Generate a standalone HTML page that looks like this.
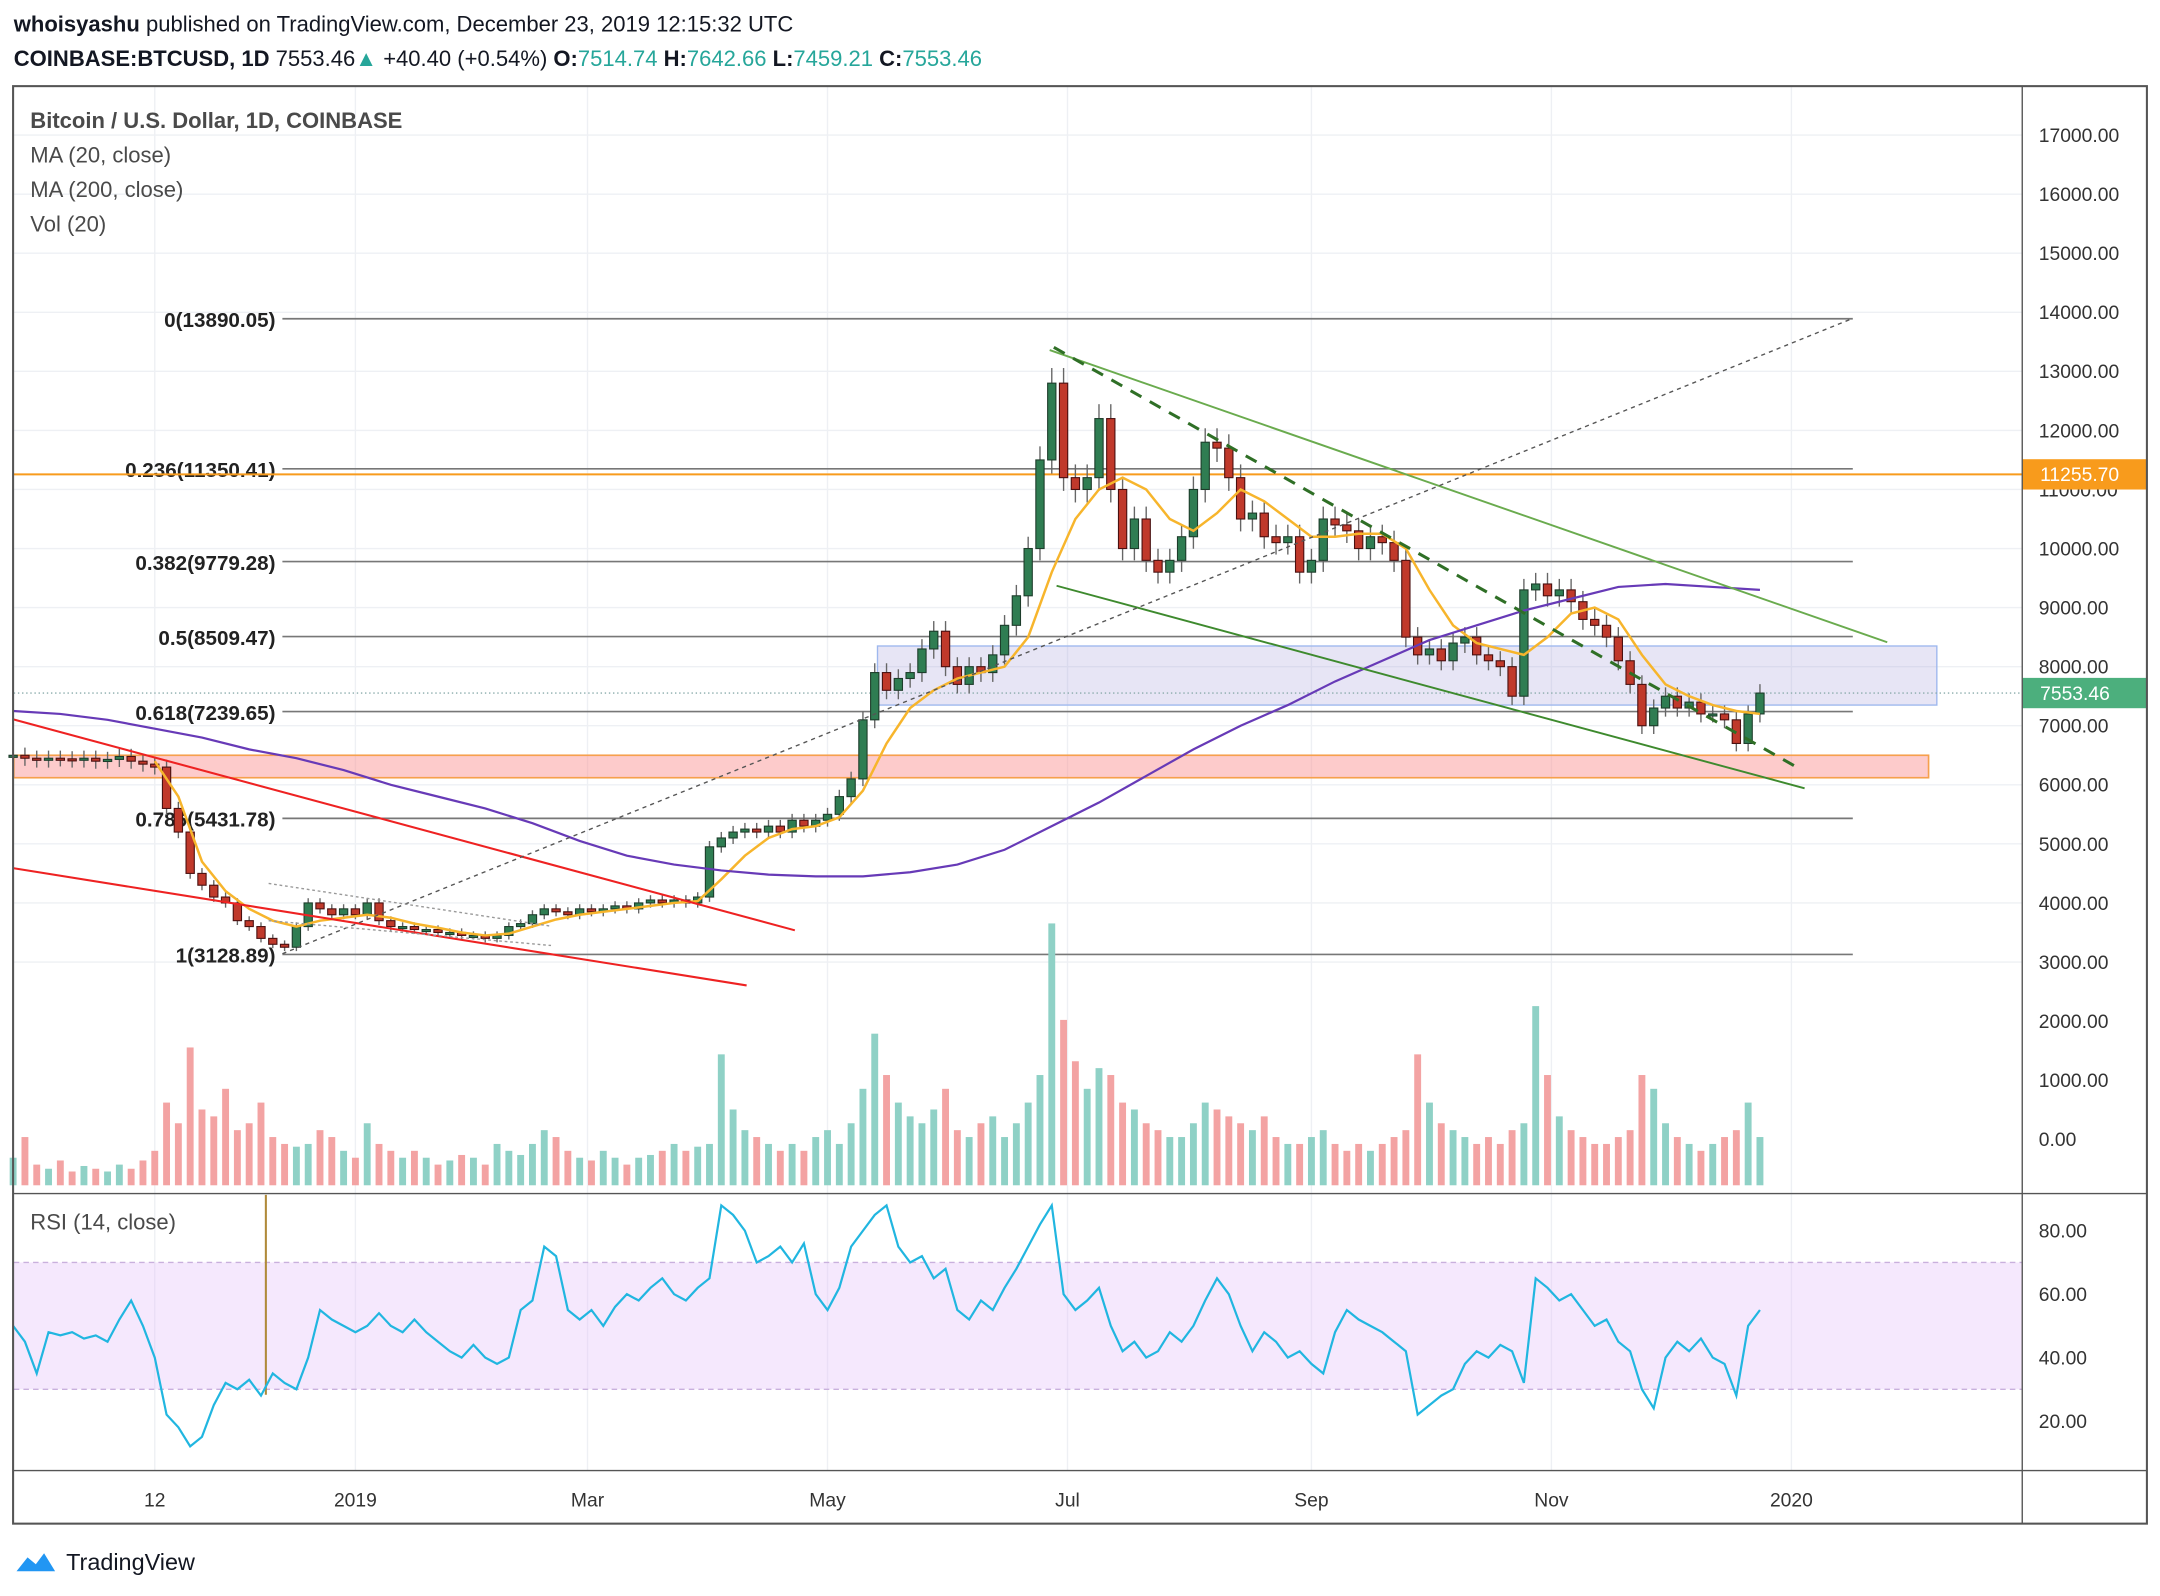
<!DOCTYPE html>
<html><head><meta charset="utf-8"><style>
html,body{margin:0;padding:0;background:#fff;}
svg{display:block;font-family:"Liberation Sans",sans-serif;}
</style></head><body>
<svg id="chart" width="2160" height="1596" viewBox="0 0 1568 1158" preserveAspectRatio="none" xmlns="http://www.w3.org/2000/svg">
<rect x="0" y="0" width="1568" height="1158" fill="#fff"/>
<text x="10" y="23" font-size="16" fill="#131722"><tspan font-weight="bold">whoisyashu</tspan> published on TradingView.com, December 23, 2019 12:15:32 UTC</text>
<text x="10" y="48" font-size="16" fill="#131722"><tspan font-weight="bold">COINBASE:BTCUSD, 1D</tspan> 7553.46<tspan fill="#26a69a">▲</tspan> +40.40 (+0.54%) <tspan font-weight="bold">O:</tspan><tspan fill="#26a69a">7514.74</tspan> <tspan font-weight="bold">H:</tspan><tspan fill="#26a69a">7642.66</tspan> <tspan font-weight="bold">L:</tspan><tspan fill="#26a69a">7459.21</tspan> <tspan font-weight="bold">C:</tspan><tspan fill="#26a69a">7553.46</tspan></text>
<g id="grid"></g>
<g id="drawings-back"></g>
<g id="volume"></g>
<g id="candles"></g>
<g id="mas"></g>
<g id="drawings"></g>
<g id="rsi"></g>
<g id="axes"></g>
<rect x="9.5" y="62.5" width="1549" height="1043" fill="none" stroke="#555" stroke-width="1.5"/>
<line x1="1468" y1="62" x2="1468" y2="1105" stroke="#555" stroke-width="1"/>
<line x1="10" y1="866" x2="1558" y2="866" stroke="#555" stroke-width="1"/>
<line x1="10" y1="1067" x2="1558" y2="1067" stroke="#555" stroke-width="1"/>
<text x="22" y="93" font-size="16" font-weight="bold" fill="#4a4a4a">Bitcoin / U.S. Dollar, 1D, COINBASE</text>
<text x="22" y="118" font-size="16" fill="#4a4a4a">MA (20, close)</text>
<text x="22" y="143" font-size="16" fill="#4a4a4a">MA (200, close)</text>
<text x="22" y="168" font-size="16" fill="#4a4a4a">Vol (20)</text>
<text x="22" y="892" font-size="16" fill="#4a4a4a">RSI (14, close)</text>
<g>
<path d="M12 1140 l8 -10 l6 5 l6 -8 l8 13 z" fill="#2196f3"/>
<text x="48" y="1139" font-size="17" fill="#131722">TradingView</text>
</g>
</svg>
<script>
const NS="http://www.w3.org/2000/svg";
const closes=[6500,6450,6420,6450,6440,6420,6450,6400,6430,6480,6400,6350,6300,5600,5200,4500,4300,4100,4000,3700,3600,3400,3300,3250,3600,4000,3900,3800,3900,3800,4000,3700,3600,3600,3550,3550,3500,3500,3450,3450,3400,3450,3600,3650,3800,3900,3850,3800,3900,3850,3900,3950,3900,4000,4050,4000,4050,4000,4100,4950,5100,5200,5250,5200,5300,5200,5400,5300,5400,5500,5800,6100,7100,7900,7600,7800,7900,8300,8600,8000,7700,8000,7900,8200,8700,9200,10000,11500,12800,11200,11000,11200,12200,11000,10000,10500,9800,9600,9800,10200,11000,11800,11700,11200,10500,10600,10200,10100,10200,9600,9800,10500,10400,10300,10000,10200,10100,9800,8500,8200,8300,8100,8400,8500,8200,8100,8000,7500,9300,9400,9200,9300,9100,8800,8700,8500,8100,7700,7000,7300,7500,7300,7400,7200,7200,7100,6700,7200,7553];
const volumes=[20,35,15,12,18,10,14,12,10,15,12,18,25,60,45,100,55,50,70,40,45,60,35,30,28,30,40,35,25,20,45,30,25,20,25,20,15,18,22,20,15,30,25,22,30,40,35,25,20,18,25,20,15,20,22,25,30,25,28,30,95,55,40,35,30,25,30,25,35,40,30,45,70,110,80,60,50,45,55,70,40,35,45,50,35,45,60,80,190,120,90,70,85,80,60,55,45,40,35,35,45,60,55,50,45,40,50,35,30,30,35,40,30,25,30,25,30,35,40,95,60,45,40,35,30,35,30,40,45,130,80,50,40,35,30,30,35,40,80,70,45,35,30,25,30,35,40,60,35];
const rsiValues=[50,45,35,48,47,48,46,47,45,52,58,50,40,22,18,12,15,25,32,30,33,28,35,32,30,40,55,52,50,48,50,54,50,48,52,48,45,42,40,44,40,38,40,55,58,75,72,55,52,55,50,56,60,58,62,65,60,58,62,65,88,85,80,70,72,75,70,76,60,55,62,75,80,85,88,75,70,72,65,68,55,52,58,55,62,68,75,82,88,60,55,58,62,50,42,45,40,42,48,45,50,58,65,60,50,42,48,45,40,42,38,35,48,55,52,50,48,45,42,22,25,28,30,38,42,40,44,42,32,65,62,58,60,55,50,52,45,42,30,24,40,45,42,46,40,38,28,50,55];
// MA20 every 2 candles starting at candle 12
const ma20=[6400,5800,4700,4200,3900,3700,3600,3700,3750,3800,3750,3650,3580,3500,3450,3480,3600,3720,3800,3850,3900,3950,4000,4030,4400,4800,5100,5250,5300,5450,5900,6700,7300,7600,7800,7900,8000,8500,9600,10500,11000,11200,11000,10500,10300,10600,11000,10800,10500,10200,10200,10250,10250,10000,9300,8700,8400,8300,8200,8500,8900,9000,8800,8200,7700,7500,7350,7250,7200];
// MA200 every 4 candles from candle 0
const ma200=[7250,7200,7100,6950,6800,6600,6450,6250,6000,5800,5600,5350,5050,4800,4650,4550,4480,4450,4450,4520,4650,4900,5300,5700,6150,6600,7000,7350,7750,8100,8450,8700,8950,9150,9350,9400,9350,9300];
const priceTicks=[17000,16000,15000,14000,13000,12000,11000,10000,9000,8000,7000,6000,5000,4000,3000,2000,1000,0];
const rsiTicks=[80,60,40,20];
const timeLabels=["12","2019","Mar","May","Jul","Sep","Nov","2020"];
const timeDays=[-51,0,59,120,181,243,304,365];
const fibLevels=[13890.05,11350.41,9779.28,8509.47,7239.65,5431.78,3128.89];
const fibNames=["0","0.236","0.382","0.5","0.618","0.786","1"];

const xDay=d=>258+d*2.856;
const xIdx=i=>xDay(-87+3*i);
const yP=p=>98+(17000-p)*0.042857;
const yR=r=>893+(80-r)*2.3;
const yV=v=>860-v;

function mk(tag,attrs,parent){const e=document.createElementNS(NS,tag);for(const k in attrs)e.setAttribute(k,attrs[k]);document.getElementById(parent).appendChild(e);return e;}

// grid + axes
priceTicks.forEach(p=>{const y=yP(p);
 if(p>=3000){const g=mk('line',{x1:10,x2:1468,y1:y,y2:y,stroke:'#eef0f4','stroke-width':1},'grid');}
 const t=mk('text',{x:1480,y:y+5,'font-size':14,fill:'#333'},'axes');t.textContent=p.toFixed(2);
 });
timeDays.forEach((d,i)=>{const x=xDay(d);
 const g=mk('line',{x1:x,x2:x,y1:62,y2:1067,stroke:'#eef0f4','stroke-width':1},'grid');
 const t=mk('text',{x:x,y:1093,'font-size':14,fill:'#333','text-anchor':'middle'},'axes');t.textContent=timeLabels[i];
 });
rsiTicks.forEach(r=>{const y=yR(r);
 const t=mk('text',{x:1480,y:y+5,'font-size':14,fill:'#333'},'axes');t.textContent=r.toFixed(2);
 });

// background drawings
let e;
e=mk('rect',{x:637,y:yP(8350),width:769,height:yP(7350)-yP(8350),fill:'rgba(160,150,215,0.25)',stroke:'#9fb8ee','stroke-width':1},'drawings-back');

e=mk('rect',{x:10,y:yP(6500),width:1390,height:yP(6120)-yP(6500),fill:'rgba(250,140,140,0.45)',stroke:'#f6a04d','stroke-width':1.2},'drawings-back');

fibLevels.forEach((f,i)=>{const y=yP(f);
 const l=mk('line',{x1:205,x2:1345,y1:y,y2:y,stroke:'#777','stroke-width':1.2},'drawings-back');
 
 const t=mk('text',{x:200,y:y+6,'font-size':15,'font-weight':'bold',fill:'#222','text-anchor':'end'},'drawings-back');
 t.textContent=fibNames[i]+'('+f.toFixed(2)+')';
 });
e=mk('line',{x1:10,x2:1468,y1:yP(11255.7),y2:yP(11255.7),stroke:'#f89b1c','stroke-width':1.5},'drawings-back');

e=mk('line',{x1:10,x2:1468,y1:yP(7553.46),y2:yP(7553.46),stroke:'#8aa','stroke-width':1,'stroke-dasharray':'1 2'},'drawings-back');


// volume
volumes.forEach((v,i)=>{if(i>=closes.length)return;const up=i===0||closes[i]>=closes[i-1];
 const r=mk('rect',{x:xIdx(i)-2.5,y:yV(v),width:5,height:v,fill:up?'#8fd1c6':'#f3a3a3'},'volume');
 });

// candles
closes.forEach((c,i)=>{const o=i===0?c:closes[i-1];const up=c>=o;const x=xIdx(i);
 const hi=Math.max(o,c)*1.02, lo=Math.min(o,c)*0.98;
 const w=mk('line',{x1:x,x2:x,y1:yP(hi),y2:yP(lo),stroke:'#666','stroke-width':1},'candles');
 
 const top=yP(Math.max(o,c)),h=Math.max(1.5,yP(Math.min(o,c))-top);
 const b=mk('rect',{x:x-3,y:top,width:6,height:h,fill:up?'#2f7d52':'#c0392b',stroke:up?'#1d3d2b':'#4a1010','stroke-width':0.8},'candles');
 });

// moving averages
let d20=ma20.map((v,k)=>(k?'L':'M')+xIdx(12+2*k)+' '+yP(v)).join(' ');
e=mk('path',{d:d20,fill:'none',stroke:'#f7b52c','stroke-width':1.8},'mas');

let d200=ma200.map((v,k)=>(k?'L':'M')+xIdx(4*k)+' '+yP(v)).join(' ');
e=mk('path',{d:d200,fill:'none',stroke:'#673ab7','stroke-width':1.6},'mas');


// trend drawings
const lines=[
 ['red-trendline-upper',10,522,577,675,'#ee2222',1.5,''],
 ['red-trendline-lower',10,630,542,715,'#ee2222',1.5,''],
 ['green-channel-upper',762,254,1370,466,'#6aab4e',1.4,''],
 ['green-channel-lower',767,425,1310,572,'#3e8a2e',1.4,''],
 ['green-dashed-trend',765,252,1305,557,'#2f6f26',2.2,'9 7'],
 ['fib-diagonal',205,692,1345,231,'#555',1,'3 3'],
 ['wedge-upper',195,641,400,672,'#999',1,'2 2'],
 ['wedge-lower',195,668,400,686,'#999',1,'2 2']];
lines.forEach(L=>{const l=mk('line',{x1:L[1],y1:L[2],x2:L[3],y2:L[4],stroke:L[5],'stroke-width':L[6]},'drawings');
 if(L[7])l.setAttribute('stroke-dasharray',L[7]);
 });

// price labels on axis
e=mk('rect',{x:1468,y:yP(11255.7)-11,width:90,height:22,fill:'#f89b1c'},'axes');

e=mk('text',{x:1481,y:yP(11255.7)+5,'font-size':14,fill:'#fff'},'axes');e.textContent='11255.70';

e=mk('rect',{x:1468,y:yP(7553.46)-11,width:90,height:22,fill:'#4caf7d'},'axes');

e=mk('text',{x:1481,y:yP(7553.46)+5,'font-size':14,fill:'#fff'},'axes');e.textContent='7553.46';


// RSI
e=mk('rect',{x:10,y:yR(70),width:1458,height:yR(30)-yR(70),fill:'rgba(225,190,250,0.35)'},'rsi');

[70,30].forEach(r=>{const l=mk('line',{x1:10,x2:1468,y1:yR(r),y2:yR(r),stroke:'#c9b0dd','stroke-width':1,'stroke-dasharray':'4 3'},'rsi');
 });
e=mk('line',{x1:193,x2:193,y1:867,y2:1012,stroke:'#b08a3a','stroke-width':1.5},'rsi');

const n=Math.min(rsiValues.length,closes.length);
let dr='';for(let i=0;i<n;i++)dr+=(i?'L':'M')+xIdx(i)+' '+yR(rsiValues[i])+' ';
e=mk('path',{d:dr,fill:'none',stroke:'#21b6e0','stroke-width':1.6},'rsi');

</script>
</body></html>
